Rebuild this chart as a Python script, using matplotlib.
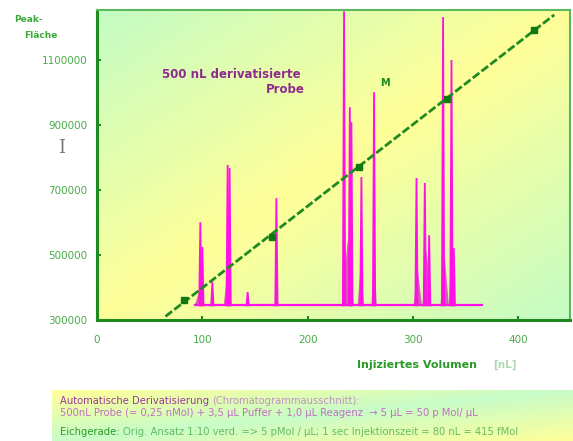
import numpy as np
import matplotlib
matplotlib.use("Agg")
import matplotlib.pyplot as plt
from matplotlib.colors import LinearSegmentedColormap

# calibration line (Eichgerade): injected volume [nL] vs peak area
calib_x = [83, 166, 249, 332, 415]
calib_y = [361500, 554500, 771700, 980000, 1192300]
fit_x = [65, 434]
fit_y = [311000, 1239000]

# chromatogram section, drawn over the same axes
chrom_range = [93, 365]
chrom_base = 345000
peak_pos = [98.1, 100.0, 109.5, 124.0, 125.9, 143.0, 170.3, 234.5, 240.0,
            241.5, 251.0, 263.0, 303.3, 311.2, 315.3, 328.5, 336.5, 338.7]
peak_h = [601000, 525000, 417000, 777000, 768000, 386000, 675000, 1250000,
          955000, 909000, 740000, 1001000, 737000, 722000, 561000, 1232000,
          1100000, 521000]
shoulder_pos = [97.4, 124.0, 238.0, 250.4, 263.0, 304.5, 313.0, 330.0, 337.0]
shoulder_h = [392000, 454000, 546000, 469000, 515000, 454000, 515000,
              500000, 546000]
shoulder_w = [4.7, 3.8, 5.7, 3.0, 2.5, 4.0, 4.0, 4.0, 3.0]

x_ticks = [0, 100, 200, 300, 400]
y_ticks = [300000, 500000, 700000, 900000, 1100000]

GREEN = "#1f8a1f"
TICK_GREEN = "#4aaa4a"
MAGENTA = "#ff10e8"
PURPLE = "#8e2a8e"

fig = plt.figure(figsize=(5.73, 4.41), dpi=100)
ax = fig.add_axes([97 / 573, 1 - 320 / 441, 473 / 573, 310 / 441])
ax.set_xlim(0, 449)
ax.set_ylim(300000, 1254000)

# diagonal gradient background
bg_cmap = LinearSegmentedColormap.from_list("bg", ["#c4fcc4", "#ffff99", "#c4fcc4"])
gx, gy = np.meshgrid(np.linspace(0, 1, 200), np.linspace(0, 1, 200))
ax.imshow((gx + gy) / 2, cmap=bg_cmap, extent=[0, 1, 0, 1], origin="upper",
          transform=ax.transAxes, aspect="auto", zorder=0)

# chromatogram
ax.plot(chrom_range, [chrom_base, chrom_base], color=MAGENTA, lw=1.6, zorder=2)
for p, h, w in zip(shoulder_pos, shoulder_h, shoulder_w):
    ax.fill([p - w, p, p + w], [chrom_base, h, chrom_base],
            color="#d030b0", alpha=0.75, lw=0, zorder=2)
for p, h in zip(peak_pos, peak_h):
    ax.fill([p - 1.1, p, p + 1.1], [chrom_base, h, chrom_base],
            facecolor="#d030b0", edgecolor=MAGENTA, lw=1.3, zorder=3)

# calibration line
ax.plot(fit_x, fit_y, color="#1f8a1f", lw=2, dashes=(3, 1), zorder=4)
ax.plot(calib_x, calib_y, ls="none", marker="s", ms=4.5, color="#117711", zorder=5)

ax.text(193, 1054000, "500 nL derivatisierte", color=PURPLE, fontsize=8.5,
        fontweight="bold", ha="right", va="center", zorder=6)
ax.text(197, 1008000, "Probe", color=PURPLE, fontsize=8.5,
        fontweight="bold", ha="right", va="center", zorder=6)
ax.text(273, 1029000, "M", color=GREEN, fontsize=7, fontweight="bold",
        ha="center", va="center", zorder=6)

# axes styling
for side in ["left", "bottom"]:
    ax.spines[side].set_color(GREEN)
    ax.spines[side].set_linewidth(2.2)
for side in ["top", "right"]:
    ax.spines[side].set_color("#5cb85c")
    ax.spines[side].set_linewidth(1.5)
ax.set_xticks(x_ticks)
ax.set_yticks(y_ticks)
ax.set_yticklabels([str(v) for v in y_ticks])
ax.tick_params(direction="in", length=3, width=1.5, color=GREEN,
               labelcolor=TICK_GREEN, labelsize=7.5)
ax.tick_params(axis="x", pad=11)
ax.tick_params(axis="y", pad=7)

fig.text(14 / 573, 1 - 20 / 441, "Peak-", color="#3aaa3a", fontsize=6.5,
         fontweight="bold", va="center")
fig.text(24 / 573, 1 - 36 / 441, "Fläche", color="#3aaa3a", fontsize=6.5,
         fontweight="bold", va="center")
fig.text(62 / 573, 1 - 148 / 441, "I", color="#777777", fontsize=13,
         family="DejaVu Serif", ha="center", va="center")

fig.text(357 / 573, 1 - 365 / 441, "Injiziertes Volumen", color="#2a9a2a",
         fontsize=8, fontweight="bold", va="center")
fig.text(493 / 573, 1 - 365 / 441, "[nL]", color="#b0d8b0", fontsize=7.5,
         fontweight="bold", va="center")

# info box below the chart
box = fig.add_axes([52 / 573, 0, 521 / 573, 51 / 441])
box_cmap = LinearSegmentedColormap.from_list("box", ["#ffff99", "#c8fcc8", "#ffff99"])
box.imshow((gx + gy) / 2, cmap=box_cmap, extent=[0, 1, 0, 1], origin="upper",
           aspect="auto")
box.set_axis_off()

fs = 7.2
t1 = fig.text(60 / 573, 1 - 401 / 441, "Automatische Derivatisierung ",
              color="#9a3a9a", fontsize=fs, va="center")
box.annotate("(Chromatogrammausschnitt):", xy=(1, 0.5), xycoords=t1,
             va="center", color="#c090c0", fontsize=fs)
fig.text(60 / 573, 1 - 413 / 441,
         "500nL Probe (= 0,25 nMol) + 3,5 µL Puffer + 1,0 µL Reagenz  → 5 µL = 50 p Mol/ µL",
         color="#c070c0", fontsize=fs, va="center")
t3 = fig.text(60 / 573, 1 - 432 / 441, "Eichgerade: ", color="#2a9a2a",
              fontsize=fs, va="center")
box.annotate("Orig. Ansatz 1:10 verd. => 5 pMol / µL; 1 sec Injektionszeit = 80 nL = 415 fMol",
             xy=(1, 0.5), xycoords=t3, va="center", color="#66bb66", fontsize=fs)

fig.savefig("out.png", dpi=100)
